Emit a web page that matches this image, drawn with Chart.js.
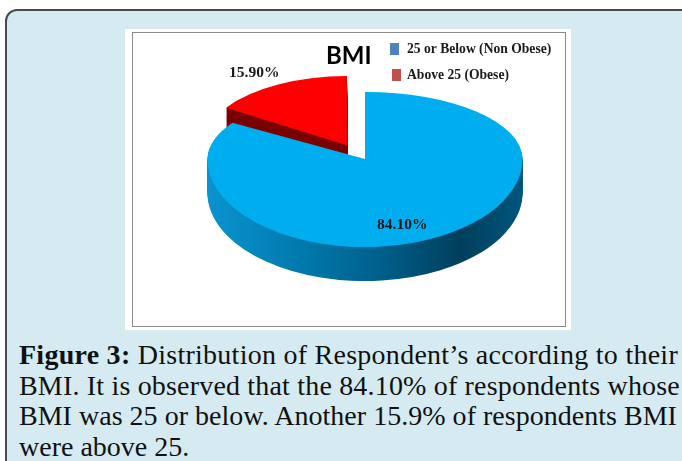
<!DOCTYPE html>
<html>
<head>
<meta charset="utf-8">
<script src="https://cdn.jsdelivr.net/npm/chart.js@4"></script>
<style>
    html, body { margin: 0; padding: 0; background: #fff; overflow: hidden; }
    #page { position: relative; width: 682px; height: 461px; overflow: hidden; }
    #panel { position: absolute; left: 5px; top: 9px; width: 690px; height: 470px; box-sizing: border-box;
             background: #d6ebf1; border: 2px solid #4a4a4a; border-radius: 12px; }
    #figure { position: absolute; left: 125px; top: 29px; width: 446px; height: 301px; background: #fff; }
    #frame { position: absolute; left: 132px; top: 32px; width: 434px; height: 295px; box-sizing: border-box;
             border: 1px solid #8a8a8a; }
    #chart { position: absolute; left: 125px; top: 29px; }
    .line { position: absolute; left: 19px; white-space: nowrap; color: #111;
            font: 28px "Liberation Serif", serif; line-height: 30px; }
</style>
</head>
<body>
<div id="page">
    <div id="panel"></div>
    <div id="figure"></div>
    <canvas id="chart" width="446" height="301"></canvas>
    <div class="line" style="top:340px;letter-spacing:.26px"><b>Figure 3:</b> Distribution of Respondent’s according to their</div>
    <div class="line" style="top:371px;letter-spacing:.18px">BMI. It is observed that the 84.10% of respondents whose</div>
    <div class="line" style="top:401px;letter-spacing:.02px">BMI was 25 or below. Another 15.9% of respondents BMI</div>
    <div class="line" style="top:432px">were above 25.</div>
    <div id="frame"></div>
</div>
<script>
const categories = ['25 or Below (Non Obese)', 'Above 25 (Obese)'];
const values = [84.10, 15.90];
const topColors = ['#00aeef', '#ff0000'];
const legendColors = ['#4f81bd', '#c0504d'];
const chartTitle = 'BMI';

// the pie is drawn flat by Chart.js, this squashes it and adds the side wall
const radius = 157.5;
const topSquash = 67 / radius;
const bottomSquash = 88 / radius;
const depths = [34, 26];
const redNarrow = 0.89;

function drawArc(chart, arc, dy, color) {
    const ctx = chart.ctx;
    const saved = arc.options;
    arc.options = Object.assign({}, saved, { backgroundColor: color });
    const props = arc.getProps(['x', 'y']);
    [[-400, topSquash], [0, bottomSquash]].forEach(([clipTop, squash]) => {
        ctx.save();
        ctx.beginPath();
        ctx.rect(0, props.y + dy + clipTop, chart.width, 400);
        ctx.clip();
        ctx.translate(0, props.y + dy);
        ctx.scale(1, squash);
        ctx.translate(0, -props.y);
        if (arc.narrow) {
            ctx.translate(arc.narrow, 0);
            ctx.scale(redNarrow, 1);
            ctx.translate(-arc.narrow, 0);
        }
        arc.draw(ctx);
        ctx.restore();
    });
    arc.options = saved;
}

const pie3d = {
    id: 'pie3d',
    beforeDatasetsDraw(chart) {
        const ctx = chart.ctx;
        const [blue, red] = chart.getDatasetMeta(0).data;
        red.narrow = red.x - 17;

        for (let dy = depths[1]; dy > 0; dy--) drawArc(chart, red, dy, '#7a0000');
        drawArc(chart, red, 0, topColors[1]);

        const side = ctx.createLinearGradient(blue.x - radius, 0, blue.x + radius, 0);
        side.addColorStop(0, '#0b93cf');
        side.addColorStop(0.3, '#0079ad');
        side.addColorStop(0.55, '#005f8a');
        side.addColorStop(0.8, '#003f5c');
        side.addColorStop(1, '#00557c');
        for (let dy = depths[0]; dy > 0; dy--) drawArc(chart, blue, dy, side);
        drawArc(chart, blue, 0, topColors[0]);
        return false;
    },
    afterDraw(chart) {
        const ctx = chart.ctx;
        ctx.save();
        ctx.textBaseline = 'alphabetic';

        ctx.font = 'bold 24px Lato, sans-serif';
        ctx.fillStyle = '#000';
        ctx.fillText(chartTitle, 201, 35);

        ctx.font = 'bold 15.5px "Liberation Serif", serif';
        ctx.fillStyle = '#1a1a1a';
        ctx.fillText(values[1].toFixed(2) + '%', 104, 48);
        ctx.fillText(values[0].toFixed(2) + '%', 252, 200);

        ctx.font = 'bold 13.6px "Liberation Serif", serif';
        categories.forEach((name, i) => {
            const y = 24 + i * 26;
            ctx.fillStyle = legendColors[i];
            ctx.fillRect(i === 0 ? 265 : 267, y - 10, 9, 12);
            ctx.fillStyle = '#1a1a1a';
            ctx.fillText(name, 282, y);
        });
        ctx.restore();
    }
};

new Chart(document.getElementById('chart'), {
    type: 'pie',
    data: {
        labels: categories,
        datasets: [{
            data: values,
            backgroundColor: topColors,
            borderWidth: 0,
            offset: [0, 144]
        }]
    },
    options: {
        responsive: false,
        animation: false,
        radius: radius,
        layout: { padding: { left: 34, bottom: 41 } },
        plugins: { legend: { display: false }, title: { display: false }, tooltip: { enabled: false } }
    },
    plugins: [pie3d]
});
</script>
</body>
</html>
